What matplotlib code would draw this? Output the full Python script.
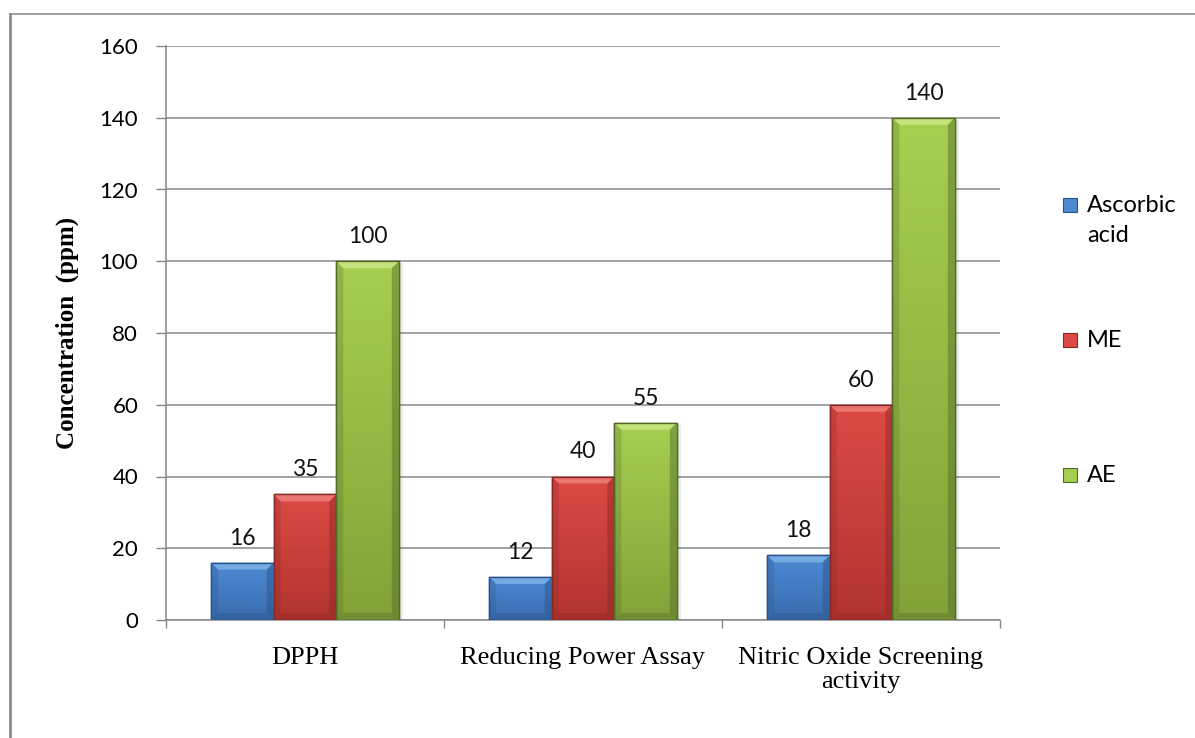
#!/usr/bin/python

'''
Bar chart of the concentration (ppm) needed by ascorbic acid, ME and AE
in three antioxidant assays.
'''

import numpy as np
import matplotlib
matplotlib.use('Agg')
import matplotlib.pyplot as plt
from matplotlib.patches import Polygon, Rectangle
from matplotlib.lines import Line2D
from matplotlib.colors import LinearSegmentedColormap

assays = ['DPPH', 'Reducing Power Assay', 'Nitric Oxide Screening\nactivity']
series = ['Ascorbic\nacid', 'ME', 'AE']
ascorbic = [16, 12, 18]
me = [35, 40, 60]
ae = [100, 55, 140]
yticks = [0, 20, 40, 60, 80, 100, 120, 140, 160]

# (top of gradient, bottom of gradient, bevel light, edge dark)
palette = [('#4d8ad4', '#3a6cae', '#7aaee6', '#2a5288'),
           ('#dc4a45', '#b2342f', '#ee7b76', '#8a2826'),
           ('#a6cf50', '#82a238', '#c8e680', '#52692a')]

W, H = 1195, 738
fig = plt.figure(figsize=(W / 100, H / 100), dpi=100)
ax = fig.add_axes([166 / W, 1 - 620 / H, (1000 - 166) / W, (620 - 46) / H])

sans = ['Lato', 'DejaVu Sans']
serif = ['Liberation Serif', 'DejaVu Serif']
gray = '#878787'

x = np.arange(len(assays)) + 0.5
width = 0.225
offsets = [-width, 0, width]

ax.set_xlim(0, 3)
ax.set_ylim(0, 160)

# pixel -> data scale, used to size bevels
px_x = 3.0 / (1000 - 166)
px_y = 160.0 / (620 - 46)
bev_x = 7 * px_x
bev_y = 7 * px_y

for k, vals in enumerate([ascorbic, me, ae]):
    top, bottom, light, dark = palette[k]
    cmap = LinearSegmentedColormap.from_list('g%d' % k, [bottom, top])
    bars = ax.bar(x + offsets[k], vals, width, color=top, edgecolor=dark,
                  linewidth=1.0, zorder=3)
    for b in bars:
        x0 = b.get_x()
        x1 = x0 + b.get_width()
        h = b.get_height()
        # faint drop shadow on the right
        ax.add_patch(Rectangle((x1, 0), 4 * px_x, h - 2 * px_y,
                               facecolor='#000000', alpha=0.08,
                               linewidth=0, zorder=2))
        grad = np.linspace(0, 1, 100).reshape(-1, 1)
        im = ax.imshow(grad, cmap=cmap, aspect='auto', origin='lower',
                       extent=[x0, x1, 0, h], zorder=3.1)
        im.set_clip_path(b)
        # bevel: lit top, darker sides and base
        ax.add_patch(Polygon([(x0, h), (x1, h), (x1 - bev_x, h - bev_y),
                              (x0 + bev_x, h - bev_y)],
                             closed=True, facecolor=light, edgecolor='none',
                             alpha=0.9, zorder=3.2))
        ax.add_patch(Polygon([(x0, 0), (x1, 0), (x1 - bev_x, bev_y),
                              (x0 + bev_x, bev_y)],
                             closed=True, facecolor=dark, edgecolor='none',
                             alpha=0.35, zorder=3.2))
        ax.add_patch(Polygon([(x0, 0), (x0, h), (x0 + bev_x, h - bev_y),
                              (x0 + bev_x, bev_y)],
                             closed=True, facecolor=dark, edgecolor='none',
                             alpha=0.25, zorder=3.2))
        ax.add_patch(Polygon([(x1, 0), (x1, h), (x1 - bev_x, h - bev_y),
                              (x1 - bev_x, bev_y)],
                             closed=True, facecolor=dark, edgecolor='none',
                             alpha=0.45, zorder=3.2))
        ax.add_patch(Rectangle((x0, 0), x1 - x0, h, facecolor='none',
                               edgecolor=dark, linewidth=1.0, zorder=3.3))
        ax.annotate('%d' % h, (b.get_x() + b.get_width() / 2, h),
                    xytext=(0, 13), textcoords='offset points',
                    ha='center', va='baseline', fontsize=16.5,
                    family=sans, color='#111111')

# axes styling
ax.set_yticks(yticks)
ax.set_yticklabels([str(t) for t in yticks], fontsize=16, family=sans)
ax.yaxis.grid(True, color=gray, linewidth=1.1, zorder=0)
ax.set_axisbelow(True)
ax.tick_params(axis='y', length=7, width=1, color=gray, pad=13)
ax.set_xticks([0, 1, 2, 3])
ax.set_xticklabels([])
ax.tick_params(axis='x', length=6, width=1, color=gray, direction='out')
for i, name in enumerate(assays):
    ax.text(x[i], -7.6, name, ha='center', va='top', fontsize=19,
            family=serif, linespacing=1.08, color='black')
for s in ['top', 'right']:
    ax.spines[s].set_visible(False)
for s in ['left', 'bottom']:
    ax.spines[s].set_color(gray)
    ax.spines[s].set_linewidth(1.1)

fig.text(67 / W, 1 - 333 / H, 'Concentration  (ppm)', rotation=90,
         ha='center', va='center', fontsize=18, fontweight='bold',
         family=serif)

# legend on the right
ys = [205, 340, 475]
for i, name in enumerate(series):
    top, bottom, light, dark = palette[i]
    fig.add_artist(Rectangle((1063 / W, 1 - (ys[i] + 7) / H), 14 / W, 14 / H,
                             transform=fig.transFigure, facecolor=top,
                             edgecolor=dark, linewidth=0.8))
    fig.text(1087 / W, 1 - (ys[i] - 10) / H, name, ha='left', va='top',
             fontsize=17, family=sans, linespacing=1.55)

# chart frame
fig.add_artist(Line2D([10 / W, 10 / W], [0, 1 - 14 / H],
                      transform=fig.transFigure, color='#8c8c8c',
                      linewidth=2))
fig.add_artist(Line2D([10 / W, 1], [1 - 14 / H, 1 - 14 / H],
                      transform=fig.transFigure, color='#8c8c8c',
                      linewidth=1.2))

fig.savefig('out.png', dpi=100)
